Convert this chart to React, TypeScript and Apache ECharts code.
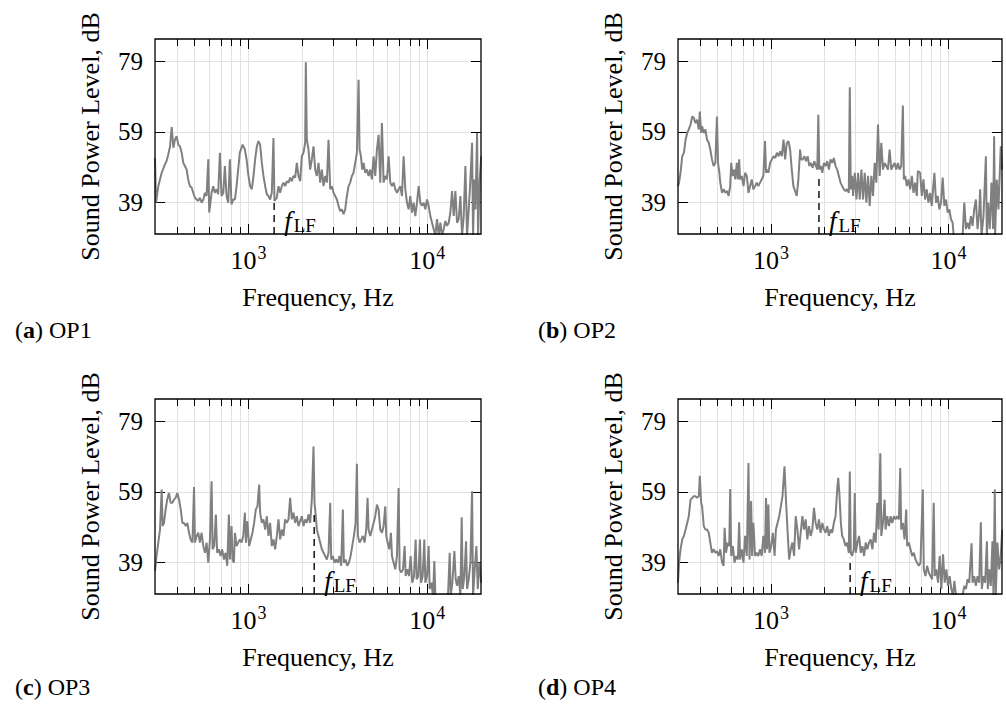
import React, { useEffect, useRef } from "react";
import * as echarts from "echarts";

const FONT = "'Liberation Serif', 'Times New Roman', serif";

// frequency [Hz], sound power level [dB]
const op1: number[][] = [
  [300,51.6],[304,38.9],[313,43.6],[327,47.4],[341,49.8],[348,50.7],[356,52.6],[364,54.9],[372,60.4],[380,54.5],
  [388,56.8],[396,57.8],[405,55.4],[414,54.9],[423,53.1],[432,50.2],[441,49.3],[451,48.3],[460,45.5],[470,43.6],
  [481,43.2],[491,41.7],[502,40.3],[513,39.8],[524,39.4],[535,40.3],[547,38.9],[559,39.8],[571,41.7],[583,40.8],
  [596,51.2],[603,36.1],[622,41.7],[635,43.6],[649,41.7],[663,42.7],[677,41.3],[692,53.1],[707,40.8],[723,41.7],
  [738,49.3],[754,40.8],[771,38.9],[787,51.2],[804,38.4],[822,39.8],[840,39.8],[858,43.6],[876,48.3],[895,53.1],
  [927,55.4],[955,54.0],[976,51.2],[1000,46.5],[1022,43.6],[1044,42.7],[1067,46.5],[1090,51.2],[1114,54.9],[1138,56.4],
  [1162,55.4],[1188,50.2],[1213,46.5],[1240,43.6],[1267,41.3],[1294,40.8],[1322,39.8],[1351,41.7],[1380,57.3],[1398,39.4],
  [1441,40.3],[1472,43.6],[1504,41.7],[1537,43.6],[1570,44.6],[1604,43.6],[1639,45.0],[1675,44.6],[1711,46.0],[1748,45.0],
  [1786,46.5],[1825,46.0],[1865,50.2],[1905,46.5],[1947,45.0],[1989,52.1],[2032,53.1],[2076,55.9],[2094,78.8],[2121,56.8],
  [2167,54.0],[2214,48.3],[2262,51.2],[2312,54.9],[2362,48.3],[2413,46.5],[2466,50.2],[2519,44.6],[2574,48.3],[2630,43.6],
  [2687,46.5],[2746,44.6],[2805,56.8],[2866,42.7],[2928,43.6],[2992,41.7],[3057,40.8],[3124,39.8],[3191,38.0],[3261,36.5],
  [3332,37.0],[3404,35.6],[3478,37.0],[3554,40.8],[3631,43.6],[3710,44.6],[3790,46.5],[3873,47.4],[3957,50.2],[4043,53.1],
  [4131,73.8],[4184,54.0],[4258,52.1],[4330,48.3],[4406,50.2],[4502,47.4],[4599,48.3],[4699,46.5],[4802,48.3],[4906,45.5],
  [5013,52.1],[5122,46.5],[5233,54.0],[5347,58.2],[5463,44.6],[5582,61.5],[5703,44.6],[5827,46.5],[5954,45.5],[6083,52.1],
  [6216,44.6],[6351,43.6],[6489,44.6],[6630,42.7],[6774,41.7],[6921,42.7],[7071,43.6],[7225,40.8],[7382,52.1],[7543,42.7],
  [7707,38.9],[7874,37.0],[8045,40.8],[8220,36.1],[8399,38.9],[8581,35.1],[8768,38.9],[8958,43.6],[9153,38.9],[9352,38.0],
  [9555,38.9],[9763,37.0],[9975,39.8],[10192,38.0],[10413,35.1],[10640,33.2],[10871,31.4],[11107,29.5],[11349,34.2],[11595,29.5],
  [11847,33.2],[12105,29.5],[12368,31.4],[12637,33.7],[12911,32.3],[13192,33.2],[13479,36.1],[13772,42.2],[14071,35.1],[14377,42.2],
  [14689,33.2],[15009,34.2],[15335,40.8],[15668,29.5],[16009,35.1],[16357,49.3],[16712,29.5],[17075,37.0],[17447,45.5],[17826,55.9],
  [18058,29.5],[18370,45.5],[18609,37.0],[19013,58.7],[19258,29.5],[19679,45.5],[20060,52.1],
];

const op2: number[][] = [
  [300,43.6],[304,44.6],[310,47.4],[317,52.1],[324,53.1],[331,56.8],[338,58.7],[345,59.7],[353,61.1],[361,63.4],
  [368,63.0],[376,61.5],[384,62.5],[393,59.7],[398,64.8],[405,58.7],[410,60.6],[419,58.7],[428,59.7],[437,56.8],
  [447,55.9],[456,54.0],[466,51.2],[476,49.3],[487,50.2],[497,63.4],[504,50.2],[513,47.4],[519,44.6],[531,41.7],
  [542,42.7],[554,41.7],[566,42.2],[578,40.8],[590,43.6],[598,50.2],[609,46.5],[622,48.3],[630,45.5],[643,50.2],
  [652,45.5],[663,51.2],[671,45.5],[686,46.5],[701,43.6],[716,47.4],[732,46.5],[748,41.7],[764,43.6],[780,45.5],
  [797,42.7],[815,43.6],[832,44.6],[850,43.6],[869,44.6],[887,45.5],[907,46.5],[927,56.4],[939,47.4],[955,48.3],
  [968,47.4],[990,50.2],[1013,51.2],[1035,52.1],[1058,51.6],[1081,53.1],[1104,52.1],[1128,53.5],[1153,52.1],[1178,56.8],
  [1203,51.2],[1229,55.9],[1256,56.4],[1283,54.0],[1311,48.3],[1339,43.6],[1368,42.2],[1398,40.8],[1428,45.5],[1460,54.0],
  [1479,51.2],[1511,51.2],[1544,52.1],[1577,50.7],[1611,52.1],[1646,49.3],[1682,50.2],[1718,48.8],[1756,50.7],[1794,49.3],
  [1825,48.3],[1849,63.9],[1873,48.3],[1914,49.3],[1947,47.4],[1989,50.2],[2032,49.3],[2076,50.7],[2121,48.3],[2167,51.2],
  [2214,50.2],[2262,51.6],[2312,49.3],[2362,48.3],[2413,46.5],[2466,44.6],[2519,43.6],[2574,42.7],[2630,42.2],[2687,42.7],
  [2746,41.7],[2781,71.7],[2817,42.7],[2866,46.5],[2903,40.8],[2966,47.4],[3031,39.8],[3097,47.4],[3164,39.8],[3233,48.3],
  [3303,39.8],[3375,47.4],[3448,38.9],[3523,46.5],[3600,38.0],[3678,46.5],[3758,40.8],[3840,50.2],[3923,44.6],[4009,61.1],
  [4096,46.5],[4184,55.9],[4275,48.3],[4368,50.2],[4463,49.3],[4560,48.3],[4659,54.0],[4760,48.3],[4864,49.3],[4969,50.2],
  [5078,48.3],[5188,50.2],[5301,48.3],[5416,49.3],[5534,66.5],[5606,45.5],[5703,46.5],[5827,43.6],[5954,45.5],[6083,42.7],
  [6216,46.5],[6351,41.7],[6489,44.6],[6630,40.8],[6718,47.9],[6921,47.4],[7071,40.8],[7225,45.5],[7382,39.8],[7543,42.7],
  [7707,38.9],[7874,41.7],[8045,38.0],[8327,47.4],[8508,38.9],[8693,40.8],[8882,37.0],[9075,38.9],[9272,46.0],[9474,38.0],
  [9680,39.8],[9890,36.1],[10105,37.0],[10325,34.2],[10549,33.2],[10688,29.5],[11012,29.5],[11497,29.5],[12002,29.5],[12263,38.9],
  [12529,31.4],[12801,33.2],[13079,31.4],[13363,35.1],[13653,32.3],[13950,37.0],[14253,39.8],[14562,31.4],[14879,36.1],[15072,42.7],
  [15335,29.5],[15735,35.1],[16228,52.1],[16440,29.5],[16712,38.9],[17075,31.4],[17447,44.6],[17826,31.4],[18058,57.8],[18291,29.5],
  [18690,45.5],[19095,37.0],[19679,54.9],[20060,48.3],
];

const op3: number[][] = [
  [300,36.5],[306,40.8],[313,44.6],[320,48.3],[327,59.7],[331,49.3],[337,50.2],[344,54.0],[351,56.8],[359,58.7],
  [367,55.9],[375,55.9],[383,56.8],[391,57.3],[400,58.7],[409,56.8],[418,54.0],[427,50.2],[436,50.2],[446,49.3],
  [455,50.2],[465,47.4],[475,45.5],[486,44.6],[496,60.4],[502,44.6],[513,46.5],[524,47.4],[535,44.6],[547,47.4],
  [559,43.6],[571,41.7],[583,44.6],[596,38.9],[609,45.5],[622,62.0],[630,42.7],[643,43.6],[657,52.6],[668,41.7],
  [683,42.7],[698,40.8],[713,42.7],[729,39.8],[745,41.7],[761,38.0],[777,52.6],[787,39.8],[804,49.3],[815,39.8],
  [829,38.9],[840,47.4],[858,43.6],[876,44.6],[895,45.5],[915,44.6],[935,46.5],[955,53.1],[968,44.6],[987,50.7],
  [1009,43.6],[1031,45.5],[1053,47.4],[1076,50.2],[1099,54.0],[1123,54.9],[1148,61.1],[1162,53.1],[1188,50.2],[1213,51.2],
  [1240,48.3],[1267,52.1],[1294,46.5],[1322,50.2],[1351,43.6],[1380,45.5],[1410,42.7],[1441,46.5],[1472,51.2],[1504,45.5],
  [1537,48.3],[1570,46.5],[1604,51.2],[1639,50.2],[1675,51.2],[1711,57.3],[1748,51.2],[1786,53.1],[1825,50.2],[1865,52.1],
  [1905,49.3],[1947,50.7],[1989,52.1],[2032,49.3],[2076,51.2],[2121,50.2],[2167,52.6],[2214,50.2],[2262,56.8],[2312,71.9],
  [2342,55.9],[2382,52.1],[2413,48.3],[2466,46.5],[2519,44.6],[2574,42.7],[2630,41.7],[2687,40.8],[2746,39.8],[2805,41.7],
  [2866,55.9],[2903,39.8],[2966,40.8],[3031,38.9],[3097,39.8],[3164,38.9],[3233,40.8],[3303,38.0],[3375,54.0],[3418,38.9],
  [3493,39.8],[3569,38.0],[3647,38.9],[3727,40.8],[3807,43.6],[3890,46.5],[3974,50.2],[4043,67.0],[4096,46.5],[4184,44.6],
  [4275,45.5],[4368,46.5],[4463,44.6],[4560,48.3],[4639,57.3],[4699,48.3],[4802,46.5],[4906,48.3],[5013,50.2],[5122,52.1],
  [5233,55.4],[5347,54.0],[5463,48.3],[5582,47.4],[5703,49.3],[5827,54.9],[5903,46.5],[6005,44.6],[6135,42.7],[6269,47.4],
  [6351,40.8],[6489,38.9],[6630,37.0],[6774,40.8],[6921,60.1],[7011,37.0],[7163,36.1],[7319,37.0],[7478,43.6],[7575,35.1],
  [7740,37.0],[7908,35.1],[8080,40.8],[8255,33.2],[8435,35.1],[8618,45.5],[8730,34.2],[8920,35.1],[9114,45.5],[9232,33.2],
  [9433,35.1],[9638,45.5],[9763,33.2],[9975,35.1],[10192,43.6],[10324,31.4],[10549,33.2],[10779,29.5],[10965,39.4],[11107,29.5],
  [11595,29.5],[12105,29.5],[12637,29.5],[13076,29.5],[13361,41.7],[13537,29.5],[13831,33.2],[14193,42.2],[14440,34.2],[14689,32.3],
  [15009,35.1],[15335,29.5],[15600,51.8],[15806,31.4],[16148,35.1],[16498,45.0],[16712,31.4],[17075,34.2],[17447,38.9],[17826,59.2],
  [18058,29.5],[18450,37.0],[18850,43.6],[19180,31.4],[19595,38.9],[20060,33.2],
];

const op4: number[][] = [
  [300,33.2],[304,38.9],[310,42.7],[317,45.5],[324,46.5],[331,48.3],[338,50.2],[345,52.1],[353,56.8],[361,57.3],
  [368,57.8],[376,57.8],[384,57.3],[393,57.8],[398,63.6],[405,55.9],[410,54.9],[419,49.3],[428,48.3],[437,48.3],
  [447,47.4],[456,44.6],[466,41.7],[476,42.7],[487,41.7],[497,42.2],[508,40.8],[519,42.7],[531,38.9],[542,38.0],
  [549,48.8],[559,41.7],[571,44.6],[583,43.6],[590,59.8],[598,40.8],[611,43.6],[624,38.9],[638,40.8],[652,39.8],
  [663,50.4],[671,39.8],[686,42.7],[701,38.9],[716,46.5],[732,40.8],[748,67.2],[758,39.8],[774,56.4],[784,40.8],
  [797,50.2],[815,40.8],[832,41.7],[850,40.8],[869,42.7],[887,40.8],[907,46.5],[927,41.7],[939,57.3],[952,42.7],
  [968,55.4],[981,41.7],[1004,43.6],[1026,47.4],[1049,40.8],[1067,48.3],[1090,50.2],[1114,52.1],[1138,54.9],[1162,57.8],
  [1193,66.3],[1213,57.8],[1240,48.3],[1267,39.8],[1294,42.7],[1322,44.6],[1351,40.8],[1380,52.1],[1410,48.3],[1441,42.7],
  [1472,47.4],[1504,52.1],[1537,48.3],[1570,51.2],[1604,45.5],[1639,49.3],[1675,46.5],[1711,48.3],[1748,54.5],[1786,50.2],
  [1825,48.3],[1865,51.2],[1905,47.4],[1947,50.2],[1989,48.3],[2032,47.4],[2076,49.3],[2121,46.5],[2167,48.3],[2214,47.4],
  [2262,50.2],[2312,52.1],[2362,59.7],[2393,63.0],[2435,57.8],[2477,50.2],[2519,46.5],[2574,45.5],[2630,43.6],[2687,44.6],
  [2746,41.7],[2781,64.8],[2817,41.7],[2866,40.8],[2928,42.7],[2966,58.7],[3005,41.7],[3070,44.6],[3137,46.5],[3205,41.7],
  [3275,43.6],[3346,40.8],[3419,44.6],[3493,42.7],[3569,44.6],[3647,45.5],[3727,42.7],[3807,47.4],[3890,44.6],[3974,55.9],
  [4043,48.3],[4131,70.0],[4184,46.5],[4275,50.2],[4368,56.8],[4424,48.3],[4521,52.1],[4619,49.3],[4720,52.1],[4823,50.2],
  [4928,52.1],[5035,51.2],[5144,52.1],[5256,51.2],[5347,65.8],[5416,48.3],[5534,50.2],[5654,45.5],[5777,54.0],[5852,43.6],
  [5979,44.6],[6109,42.7],[6243,40.8],[6379,41.7],[6517,39.8],[6659,38.9],[6803,38.0],[6951,38.9],[7163,59.7],[7256,37.0],
  [7414,35.1],[7575,38.0],[7740,36.1],[7908,35.1],[8080,34.2],[8255,55.9],[8363,35.1],[8544,37.0],[8730,33.2],[8920,40.8],
  [9114,31.4],[9312,41.3],[9515,33.2],[9722,37.0],[9932,32.3],[10148,35.1],[10370,31.4],[10595,29.5],[10779,33.7],[11012,29.5],
  [11497,29.5],[12002,29.5],[12263,32.3],[12529,31.4],[12801,34.2],[13079,33.2],[13479,44.4],[13653,33.2],[13950,35.1],[14253,32.3],
  [14562,35.1],[14879,33.2],[15202,50.4],[15401,31.4],[15735,35.1],[16078,33.2],[16440,45.0],[16640,31.4],[16929,37.0],[17298,32.3],
  [17673,45.0],[17904,29.5],[18213,59.7],[18450,29.5],[18850,44.6],[19258,37.0],[19679,40.8],[20060,48.3],
];

const panels = [op1, op2, op3, op4];
const panelLetters = ["a", "b", "c", "d"];
const panelNames = ["OP1", "OP2", "OP3", "OP4"];
const fLF = [1392, 1865, 2332, 2793];
const fLFLevel = [39.5, 46.5, 53.5, 40.3];
const xMinorTicks = [400, 500, 600, 700, 800, 900, 2000, 3000, 4000, 5000, 6000, 7000, 8000, 9000];
const xMajorTicks = [1000, 10000];
const yTickValues = [39, 59, 79];
const X_MIN = 300;
const X_MAX = 20000;
const Y_MIN = 30;
const Y_MAX = 85.4;

const gridRects = [
  { left: 155, top: 39, width: 326, height: 195 },
  { left: 678, top: 39, width: 324, height: 195 },
  { left: 155, top: 399, width: 326, height: 195 },
  { left: 678, top: 399, width: 324, height: 195 },
];
const captionPos = [
  { left: 15, top: 318 },
  { left: 538, top: 318 },
  { left: 15, top: 675 },
  { left: 538, top: 675 },
];

const GRID_COLOR = "#e0e0e0";
const LINE_COLOR = "#808080";
const FS = 26;
const CAP_FS = 24;

export default function App() {
  const ref = useRef<HTMLDivElement>(null);
  useEffect(() => {
    if (!ref.current) return;
    const chart = echarts.init(ref.current, null, { renderer: "svg" });
    const xGridValues = [...xMinorTicks, ...xMajorTicks].sort((a, b) => a - b);
    const tickLine = { color: "#000", width: 1 };
    const xAxis: any[] = [];
    const yAxis: any[] = [];
    const series: any[] = [];
    panels.forEach((data, i) => {
      const base = {
        type: "log",
        logBase: 10,
        min: X_MIN,
        max: X_MAX,
        gridIndex: i,
        axisLine: { show: false },
        splitLine: { show: false },
        axisLabel: { show: false },
      };
      xAxis.push({
        ...base,
        position: "bottom",
        axisTick: { show: true, inside: true, length: 7, customValues: xGridValues, lineStyle: tickLine },
        splitLine: { show: true, lineStyle: { color: GRID_COLOR, width: 1 } },
        axisLabel: {
          show: true,
          customValues: xMajorTicks,
          margin: 10,
          formatter: (v: number) => `{b|10}{s|${Math.round(Math.log10(v))}}`,
          rich: {
            b: { fontFamily: FONT, fontSize: FS, color: "#000" },
            s: { fontFamily: FONT, fontSize: 18, color: "#000", padding: [0, 0, 14, 1] },
          },
        },
        name: "Frequency, Hz",
        nameLocation: "middle",
        nameGap: 50,
        nameTextStyle: { fontFamily: FONT, fontSize: FS, color: "#000" },
      });
      xAxis.push({
        ...base,
        position: "top",
        axisTick: { show: true, inside: true, length: 7, customValues: xGridValues, lineStyle: tickLine },
      });
      xAxis.push({
        ...base,
        position: "bottom",
        axisTick: { show: true, inside: true, length: 10, customValues: xMajorTicks, lineStyle: tickLine },
      });
      xAxis.push({
        ...base,
        position: "top",
        axisTick: { show: true, inside: true, length: 10, customValues: xMajorTicks, lineStyle: tickLine },
      });
      yAxis.push({
        type: "value",
        min: Y_MIN,
        max: Y_MAX,
        gridIndex: i,
        position: "left",
        axisLine: { show: false },
        axisTick: { show: true, inside: true, length: 10, customValues: yTickValues, lineStyle: tickLine },
        axisLabel: { customValues: yTickValues, margin: 12, fontFamily: FONT, fontSize: 25, color: "#000" },
        splitLine: { show: true, lineStyle: { color: GRID_COLOR, width: 1 } },
        name: "Sound Power Level, dB",
        nameLocation: "middle",
        nameGap: 52,
        nameTextStyle: { fontFamily: FONT, fontSize: FS, color: "#000" },
      });
      yAxis.push({
        type: "value",
        min: Y_MIN,
        max: Y_MAX,
        gridIndex: i,
        position: "right",
        axisLine: { show: false },
        axisTick: { show: true, inside: true, length: 10, customValues: yTickValues, lineStyle: tickLine },
        axisLabel: { show: false },
        splitLine: { show: false },
      });
      series.push({
        type: "line",
        xAxisIndex: 4 * i,
        yAxisIndex: 2 * i,
        data,
        showSymbol: false,
        symbol: "none",
        silent: true,
        z: 3,
        lineStyle: { color: LINE_COLOR, width: 2 },
      });
      series.push({
        type: "line",
        xAxisIndex: 4 * i,
        yAxisIndex: 2 * i,
        symbol: "circle",
        symbolSize: 0,
        showSymbol: true,
        silent: true,
        z: 4,
        lineStyle: { color: "#000", width: 1.4, type: [7, 5] },
        itemStyle: { color: "#000" },
        data: [
          {
            value: [fLF[i], Y_MIN],
            label: {
              show: true,
              position: "right",
              distance: 10,
              offset: [0, -13],
              formatter: "{f|f}{s|LF}",
              rich: {
                f: { fontFamily: FONT, fontSize: 27, fontStyle: "italic", color: "#000" },
                s: { fontFamily: FONT, fontSize: 19, color: "#000", padding: [9, 0, 0, 2] },
              },
            },
          },
          { value: [fLF[i], fLFLevel[i]], label: { show: false } },
        ],
      });
    });

    const option: any = {
      animation: false,
      backgroundColor: "#fff",
      grid: gridRects.map((r) => ({
        ...r,
        show: true,
        borderColor: "#000",
        borderWidth: 1.3,
        backgroundColor: "transparent",
        z: 5,
      })),
      xAxis,
      yAxis,
      series,
      graphic: captionPos.map((p, i) => ({
        type: "text",
        left: p.left,
        top: p.top,
        style: {
          text: `{p|(}{b|${panelLetters[i]}}{p|) ${panelNames[i]}}`,
          fill: "#000",
          rich: {
            p: { fontFamily: FONT, fontSize: CAP_FS, lineHeight: 18, color: "#000" },
            b: { fontFamily: FONT, fontSize: CAP_FS, lineHeight: 18, fontWeight: "bold", color: "#000" },
          },
        },
      })),
    };
    chart.setOption(option);
    return () => chart.dispose();
  }, []);
  return (
    <div
      ref={ref}
      style={{ position: "fixed", left: 0, top: 0, width: 1006, height: 704, background: "#fff" }}
    />
  );
}
